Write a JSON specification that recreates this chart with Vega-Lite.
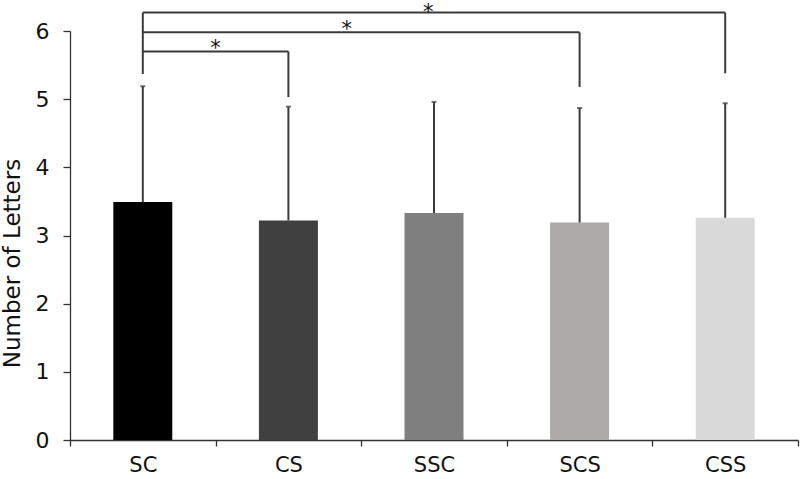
{
  "$schema": "https://vega.github.io/schema/vega-lite/v6.json",
  "autosize": "none",
  "width": 728,
  "height": 409,
  "padding": {"left": 70, "top": 31, "right": 2, "bottom": 39},
  "background": "white",
  "config": {
    "view": {"stroke": null},
    "font": "DejaVu Sans",
    "axis": {"grid": false, "domainColor": "#333333", "tickColor": "#333333", "domainWidth": 1.3, "tickWidth": 1.3}
  },
  "datasets": {
    "groups": [
      {"cond": "SC", "mean": 3.49, "upper": 5.19, "shade": "#000000"},
      {"cond": "CS", "mean": 3.22, "upper": 4.89, "shade": "#404040"},
      {"cond": "SSC", "mean": 3.33, "upper": 4.96, "shade": "#7f7f7f"},
      {"cond": "SCS", "mean": 3.19, "upper": 4.87, "shade": "#aeaaaa"},
      {"cond": "CSS", "mean": 3.26, "upper": 4.94, "shade": "#d9d9d9"}
    ],
    "spans": [
      {"from": "SC", "to": "CS", "level": 5.7},
      {"from": "SC", "to": "SCS", "level": 5.98},
      {"from": "SC", "to": "CSS", "level": 6.27}
    ],
    "legs": [
      {"cond": "SC", "low": 5.37, "high": 6.27},
      {"cond": "CS", "low": 5.03, "high": 5.7},
      {"cond": "SCS", "low": 5.18, "high": 5.98},
      {"cond": "CSS", "low": 5.38, "high": 6.27}
    ],
    "stars": [
      {"pos": 1.0, "level": 5.73, "mark": "*"},
      {"pos": 1.9, "level": 6.01, "mark": "*"},
      {"pos": 2.46, "level": 6.27, "mark": "*"}
    ]
  },
  "layer": [
    {
      "layer": [
        {
          "data": {"name": "groups"},
          "mark": {"type": "bar", "width": {"band": 0.405}},
          "encoding": {
            "x": {
              "field": "cond", "type": "nominal", "sort": null,
              "scale": {"paddingInner": 0, "paddingOuter": 0},
              "axis": {"title": null, "labelAngle": 0, "labelFontSize": 21, "labelColor": "#111111", "labelPadding": 8, "tickSize": 6, "tickBand": "extent"}
            },
            "y": {
              "field": "mean", "type": "quantitative",
              "scale": {"domain": [0, 6], "nice": false},
              "axis": {"title": "Number of Letters", "values": [0, 1, 2, 3, 4, 5, 6], "format": "d", "labelFontSize": 22, "labelColor": "#111111", "labelPadding": 14, "tickSize": 7, "titleFontSize": 23, "titleFontWeight": "normal", "titleColor": "#111111", "titleX": -51, "titleY": 232, "titleBaseline": "alphabetic", "titleAlign": "center"}
            },
            "color": {"field": "shade", "type": "nominal", "scale": null}
          }
        },
        {
          "data": {"name": "groups"},
          "mark": {"type": "rule", "color": "#3a3a3a", "strokeWidth": 2},
          "encoding": {
            "x": {"field": "cond", "type": "nominal", "sort": null},
            "y": {"field": "mean", "type": "quantitative"},
            "y2": {"field": "upper"}
          }
        },
        {
          "data": {"name": "groups"},
          "mark": {"type": "tick", "color": "#3a3a3a", "size": 5, "thickness": 2},
          "encoding": {
            "x": {"field": "cond", "type": "nominal", "sort": null},
            "y": {"field": "upper", "type": "quantitative"}
          }
        },
        {
          "data": {"name": "spans"},
          "mark": {"type": "rule", "color": "#3a3a3a", "strokeWidth": 2},
          "encoding": {
            "x": {"field": "from", "type": "nominal", "sort": null},
            "x2": {"field": "to"},
            "y": {"field": "level", "type": "quantitative"}
          }
        },
        {
          "data": {"name": "legs"},
          "mark": {"type": "rule", "color": "#3a3a3a", "strokeWidth": 2},
          "encoding": {
            "x": {"field": "cond", "type": "nominal", "sort": null},
            "y": {"field": "low", "type": "quantitative"},
            "y2": {"field": "high"}
          }
        }
      ]
    },
    {
      "data": {"name": "stars"},
      "mark": {"type": "text", "fontSize": 21, "baseline": "middle", "align": "center", "color": "#111111"},
      "encoding": {
        "x": {"field": "pos", "type": "quantitative", "scale": {"domain": [0, 5], "nice": false, "zero": false}, "axis": null},
        "y": {"field": "level", "type": "quantitative"},
        "text": {"field": "mark"}
      }
    }
  ],
  "resolve": {"scale": {"x": "independent"}, "axis": {"x": "independent"}}
}
